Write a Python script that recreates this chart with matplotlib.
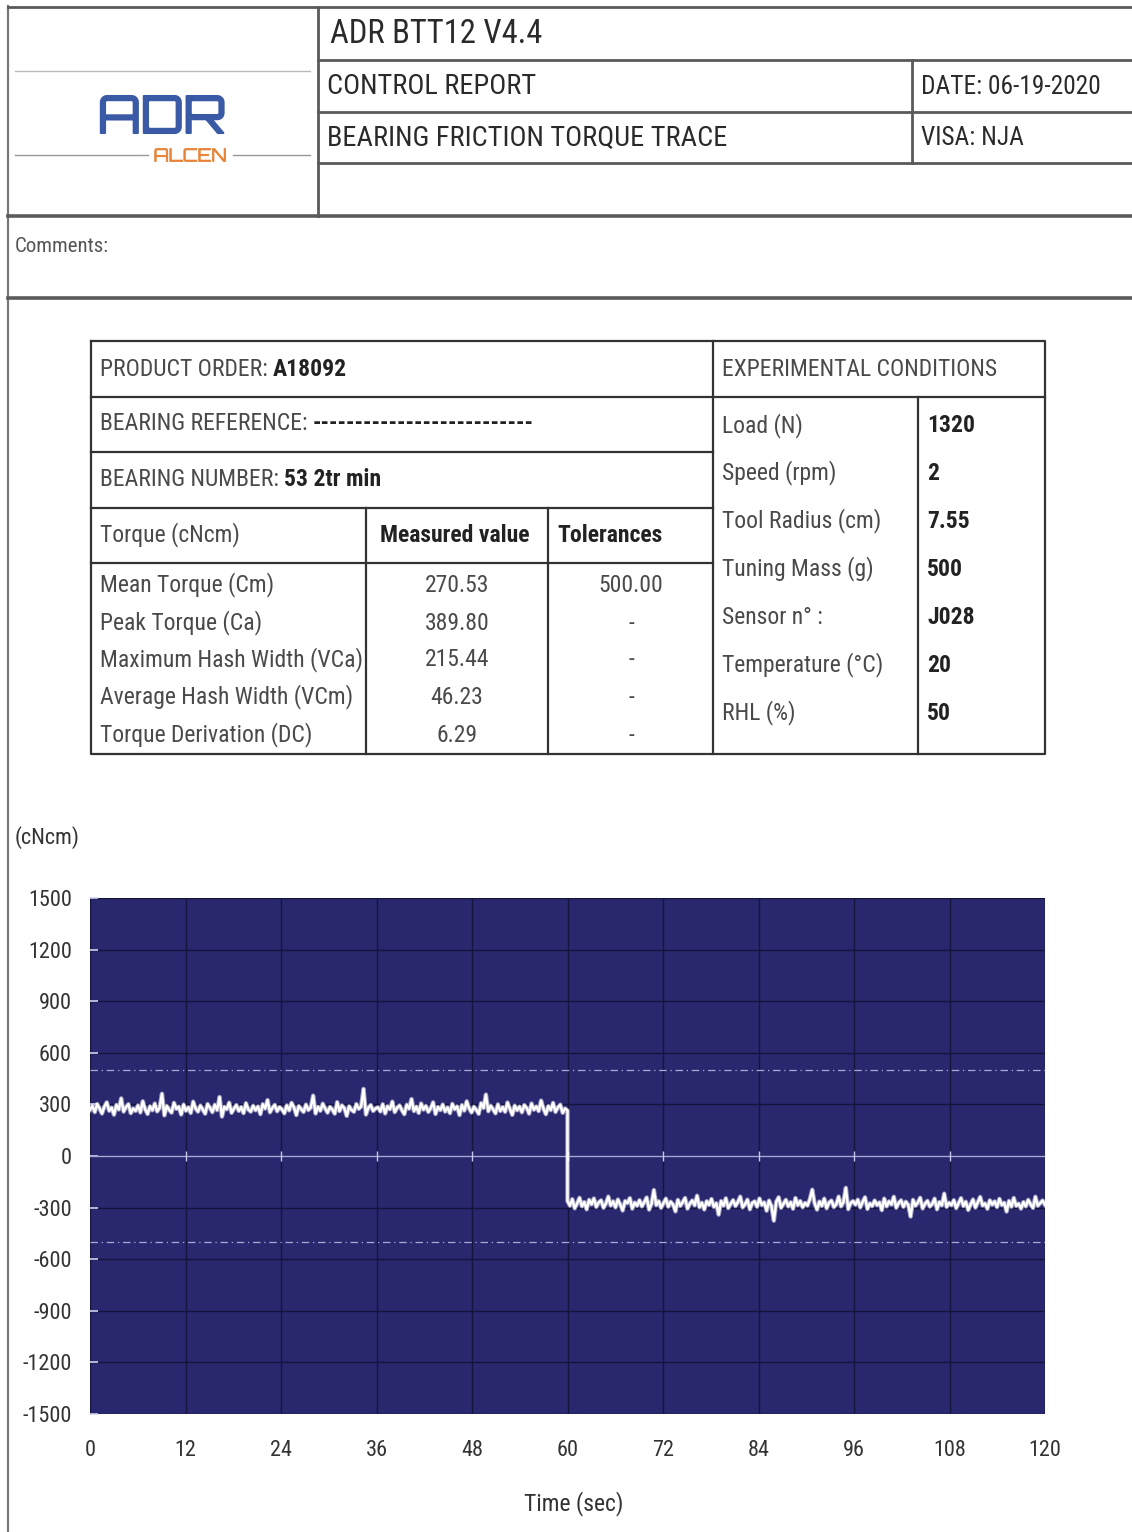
import numpy as np
import matplotlib
matplotlib.use("Agg")
import matplotlib.pyplot as plt
import matplotlib.patheffects as pe

plt.rcParams['font.family'] = ['Roboto Condensed', 'PT Sans Narrow', 'DejaVu Sans']
plt.rcParams['axes.unicode_minus'] = False

# report header / table contents
title = "ADR BTT12 V4.4"
report = "CONTROL REPORT"
trace_name = "BEARING FRICTION TORQUE TRACE"
date_txt = "DATE: 06-19-2020"
visa_txt = "VISA: NJA"

torque_rows = ["Mean Torque (Cm)", "Peak Torque (Ca)", "Maximum Hash Width (VCa)",
               "Average Hash Width (VCm)", "Torque Derivation (DC)"]
measured = ["270.53", "389.80", "215.44", "46.23", "6.29"]
tolerances = ["500.00", "-", "-", "-", "-"]

cond_labels = ["Load (N)", "Speed (rpm)", "Tool Radius (cm)", "Tuning Mass (g)",
               "Sensor n° :", "Temperature (°C)", "RHL (%)"]
cond_values = ["1320", "2", "7.55", "500", "J028", "20", "50"]

# torque trace (cNcm)
torque_first = [
    268, 291, 255, 302, 276, 247, 288, 312, 263, 281,
    240, 297, 270, 335, 258, 284, 301, 249, 276, 262,
    294, 253, 318, 271, 244, 289, 266, 305, 259, 280,
    362, 236, 291, 268, 252, 309, 274, 287, 241, 299,
    263, 283, 250, 316, 277, 258, 293, 269, 246, 302,
    281, 255, 298, 267, 343, 229, 286, 272, 310, 251,
    275, 296, 262, 284, 249, 307, 270, 258, 292, 266,
    288, 243, 301, 276, 325, 254, 279, 297, 260, 284,
    271, 248, 294, 265, 309, 283, 238, 290, 273, 256,
    299, 267, 282, 351, 247, 286, 263, 304, 276, 252,
    285, 270, 246, 313, 261, 294, 278, 233, 289, 268,
    257, 302, 274, 288, 390, 241, 280, 296, 262, 276,
    283, 259, 301, 247, 289, 272, 316, 255, 280, 294,
    266, 243, 298, 275, 331, 261, 287, 250, 305, 270,
    291, 256, 278, 312, 244, 285, 267, 299, 258, 282,
    249, 303, 272, 288, 238, 296, 264, 318, 277, 253,
    286, 268, 245, 307, 279, 357, 260, 292, 271, 248,
    300, 262, 284, 257, 311, 274, 239, 293, 266, 287,
    254, 296, 279, 246, 305, 269, 288, 261, 322, 275,
    243, 290, 267, 309, 256, 283, 298, 251, 276, 264,
]
torque_second = [
    -262, -289, -251, -304, -276, -243, -292, -268, -310, -255,
    -281, -247, -296, -270, -258, -301, -277, -236, -288, -264,
    -299, -253, -283, -317, -262, -274, -245, -306, -271, -289,
    -257, -293, -268, -241, -312, -279, -198, -286, -263, -301,
    -274, -248, -295, -266, -283, -322, -255, -290, -269, -244,
    -306, -277, -259, -287, -231, -298, -272, -311, -263, -284,
    -250, -296, -275, -341, -262, -289, -246, -303, -279, -257,
    -291, -268, -236, -299, -281, -254, -310, -273, -264, -295,
    -247, -285, -270, -318, -259, -292, -376, -266, -240, -301,
    -278, -255, -293, -269, -307, -244, -286, -262, -298, -273,
    -288, -251, -196, -276, -312, -265, -290, -248, -304, -271,
    -259, -297, -281, -236, -293, -268, -185, -309, -274, -262,
    -283, -254, -299, -267, -240, -308, -276, -291, -259, -286,
    -270, -315, -248, -293, -264, -282, -237, -301, -273, -258,
    -296, -266, -284, -352, -255, -289, -271, -243, -305, -278,
    -261, -294, -279, -248, -310, -268, -287, -219, -296, -272,
    -286, -257, -303, -274, -245, -291, -266, -314, -282, -253,
    -300, -269, -238, -288, -276, -307, -258, -283, -264, -297,
    -249, -285, -272, -323, -261, -295, -244, -290, -277, -306,
    -268, -293, -255, -281, -302, -237, -289, -274, -259, -284,
]
tolerance = 500
x_ticks = [0, 12, 24, 36, 48, 60, 72, 84, 96, 108, 120]
y_ticks = [1500, 1200, 900, 600, 300, 0, -300, -600, -900, -1200, -1500]

W, H = 1132, 1532
fig = plt.figure(figsize=(W / 100, H / 100), dpi=100)
fig.patch.set_facecolor("white")

# page layout in pixel coordinates
bg = fig.add_axes([0, 0, 1, 1])
bg.set_xlim(0, W)
bg.set_ylim(H, 0)
bg.axis("off")

frame = "#5a5a5a"
lw_frame = 2.0
bg.plot([8, 8], [6, H], color="#777777", lw=1.6)
bg.plot([8, W], [7, 7], color=frame, lw=lw_frame)
bg.plot([8, W], [216, 216], color=frame, lw=lw_frame + 0.6)
bg.plot([8, W], [298, 298], color=frame, lw=lw_frame + 0.6)
bg.plot([318, 318], [7, 216], color=frame, lw=lw_frame)
for yy in [60, 112, 163]:
    bg.plot([318, W], [yy, yy], color=frame, lw=lw_frame)
bg.plot([912, 912], [60, 163], color=frame, lw=lw_frame)

# logo
logo_font = ["Orbitron", "Aldrich", "DejaVu Sans"]
bg.plot([15, 310], [71, 71], color="#bbbbbb", lw=1.0)
bg.plot([15, 148], [155, 155], color="#999999", lw=1.0)
bg.plot([233, 310], [155, 155], color="#999999", lw=1.0)
bg.text(162, 119, "ADR", color="#3b5aa6", fontsize=37, fontweight="bold",
        family=logo_font, ha="center", va="center",
        path_effects=[pe.withStroke(linewidth=1.5, foreground="#3b5aa6")])
bg.text(190, 156, "ALCEN", color="#e8843a", fontsize=13, family=logo_font,
        ha="center", va="center",
        path_effects=[pe.withStroke(linewidth=0.5, foreground="#e8843a")])

hdr = "#2a2a2a"
bg.text(330, 34, title, fontsize=23.5, color=hdr, va="center")
bg.text(327, 87, report, fontsize=20.4, color=hdr, va="center")
bg.text(327, 138, trace_name, fontsize=20.4, color=hdr, va="center")
bg.text(921, 87, date_txt, fontsize=18.3, color=hdr, va="center")
bg.text(921, 138, visa_txt, fontsize=18.3, color=hdr, va="center")
bg.text(15, 246, "Comments:", fontsize=15, color="#555555", va="center")

# product / conditions table
tl = "#333333"
tw = 1.6
lab = "#4a4a4a"
dark = "#222222"
fs = 17
bg.plot([91, 1045, 1045, 91, 91], [341, 341, 754, 754, 341], color=tl, lw=tw)
bg.plot([713, 713], [341, 754], color=tl, lw=tw)
for yy in [397, 452, 508, 563]:
    bg.plot([91, 713], [yy, yy], color=tl, lw=tw)
bg.plot([713, 1045], [397, 397], color=tl, lw=tw)
bg.plot([366, 366], [508, 754], color=tl, lw=tw)
bg.plot([548, 548], [508, 754], color=tl, lw=tw)
bg.plot([918, 918], [397, 754], color=tl, lw=tw)

for yy, a, b in [(369, "PRODUCT ORDER: ", "A18092"),
                 (424, "BEARING REFERENCE: ", "--------------------------"),
                 (479, "BEARING NUMBER: ", "53 2tr min")]:
    t = bg.text(100, yy, a, fontsize=fs, color=lab, va="center")
    bg.annotate(b, xy=(1, 0.5), xycoords=t, fontsize=fs, color=dark,
                fontweight="bold", va="center", ha="left")

bg.text(100, 535, "Torque (cNcm)", fontsize=fs, color=lab, va="center")
bg.text(455, 535, "Measured value", fontsize=fs, color=dark, fontweight="bold",
        va="center", ha="center")
bg.text(557, 535, "Tolerances", fontsize=fs, color=dark, fontweight="bold",
        va="center", ha="left")
row_y = [585, 623, 660, 697, 735]
for yy, name, m, tol in zip(row_y, torque_rows, measured, tolerances):
    bg.text(100, yy, name, fontsize=fs, color=lab, va="center")
    bg.text(457, yy, m, fontsize=fs, color=lab, va="center", ha="center")
    bg.text(631, yy, tol, fontsize=fs, color=lab, va="center", ha="center")

bg.text(722, 369, "EXPERIMENTAL CONDITIONS", fontsize=fs, color=lab, va="center")
cond_y = [426, 473, 521, 569, 617, 665, 713]
for yy, name, v in zip(cond_y, cond_labels, cond_values):
    bg.text(722, yy, name, fontsize=fs, color=lab, va="center")
    bg.text(927, yy, v, fontsize=fs, color=dark, fontweight="bold", va="center")

bg.text(15, 838, "(cNcm)", fontsize=16, color="#333333", va="center")

# torque trace
ax = fig.add_axes([90 / W, 1 - 1414 / H, (1045 - 90) / W, (1414 - 898) / H])
ax.set_facecolor("#29286e")
t1 = np.linspace(0, 60, len(torque_first))
t2 = np.linspace(60, 120, len(torque_second))
tt = np.concatenate([t1, t2])
yy = np.concatenate([torque_first, torque_second])

ax.set_xlim(0, 120)
ax.set_ylim(-1500, 1500)
ax.set_xticks(x_ticks)
ax.set_yticks(y_ticks)
ax.grid(True, color="#14143c", lw=1.0)
ax.set_axisbelow(True)
ax.axhline(0, color="#a9a9d8", lw=1.0, zorder=2)
ax.axhline(tolerance, color="#a9a9d8", lw=0.9, ls=(0, (6, 3, 1, 3)), zorder=2)
ax.axhline(-tolerance, color="#a9a9d8", lw=0.9, ls=(0, (6, 3, 1, 3)), zorder=2)
ax.plot(x_ticks[1:-1], [0] * len(x_ticks[1:-1]), ls="none", marker="|",
        ms=7, color="#c8c8ee", mew=1.0, zorder=2)
ax.plot(tt, yy, color="#e6e6f4", lw=3.2, alpha=0.6, zorder=3)
ax.plot(tt, yy, color="white", lw=1.8, zorder=3)

for s in ax.spines.values():
    s.set_visible(False)
ax.tick_params(axis="y", direction="in", length=6, color="#d0d0f0", width=1.2,
               labelsize=16, labelcolor="#333333", pad=13)
ax.tick_params(axis="x", length=0, labelsize=16, labelcolor="#333333", pad=19)
ax.set_xlabel("Time (sec)", fontsize=17, color="#333333")
ax.xaxis.set_label_coords(0.507, -0.15)

fig.savefig("out.png", dpi=100, facecolor="white")
